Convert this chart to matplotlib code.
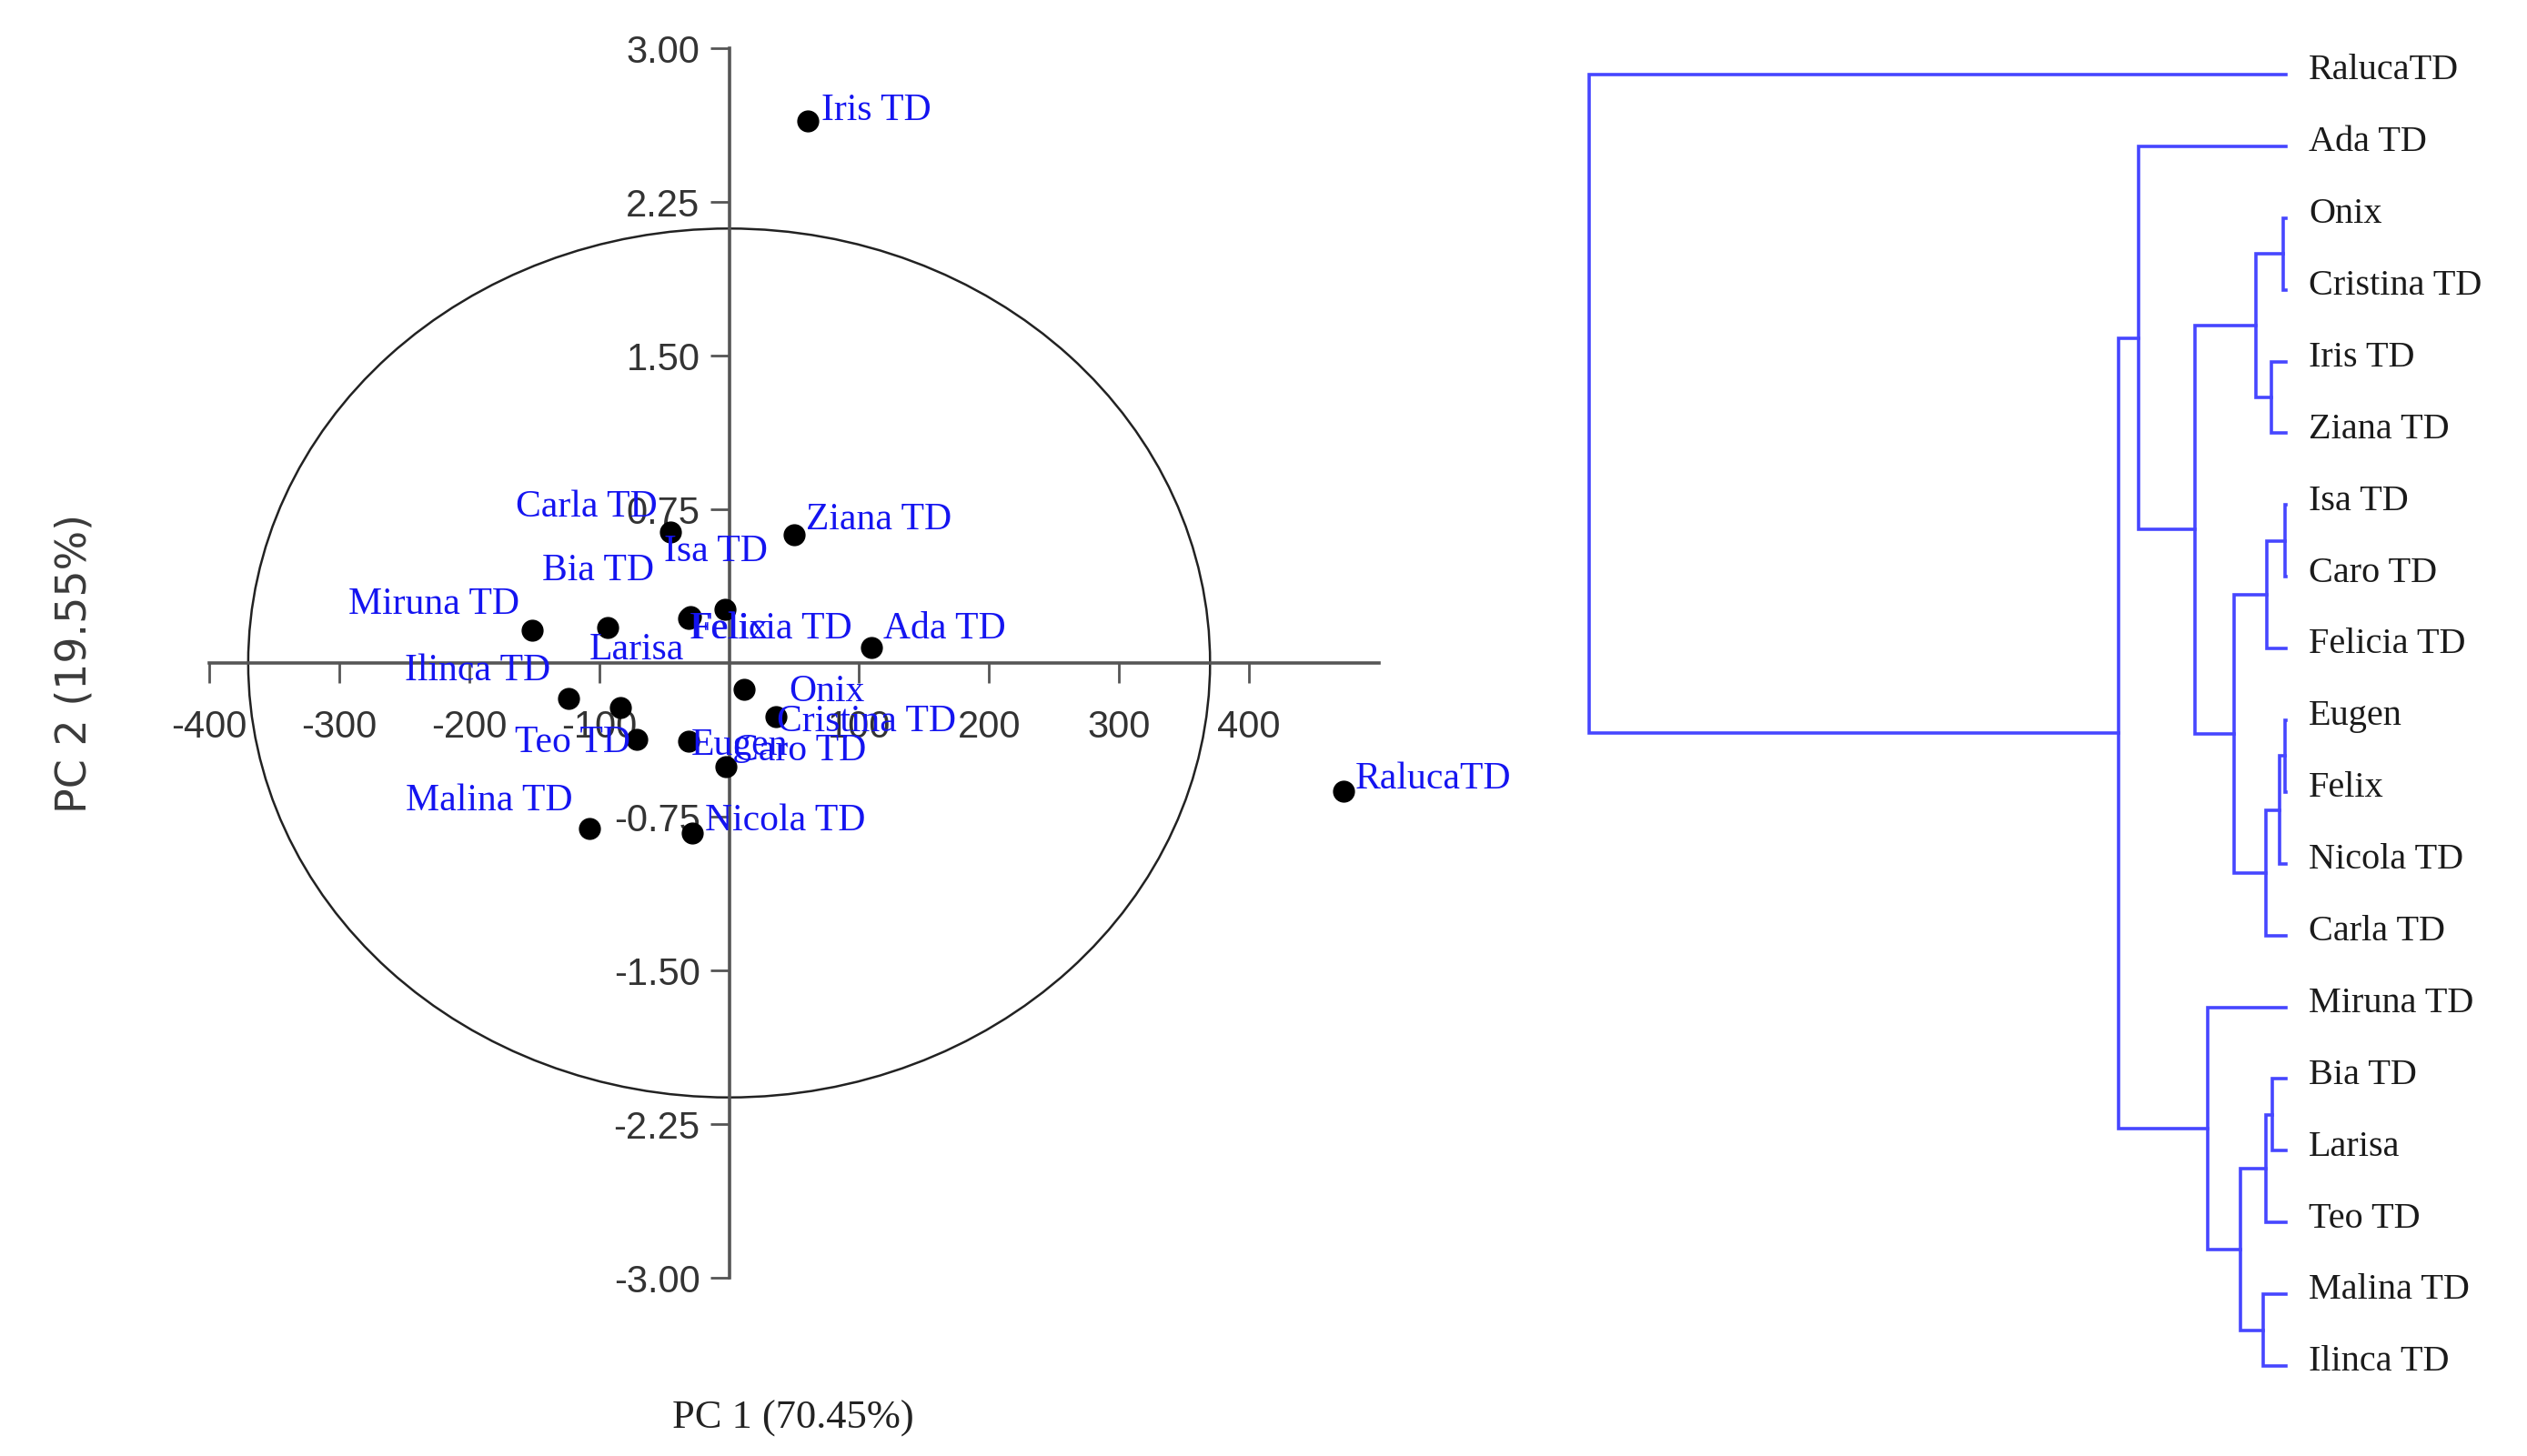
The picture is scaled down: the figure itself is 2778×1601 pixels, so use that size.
import matplotlib
matplotlib.use("Agg")
import matplotlib.pyplot as plt
from matplotlib.patches import Ellipse

plt.rcParams['axes.unicode_minus'] = False

# PCA scores (PC1, PC2)
names = ["Iris TD", "Ziana TD", "Carla TD", "Ada TD", "Malina TD", "Nicola TD",
         "RalucaTD", "Miruna TD", "Bia TD", "Felix", "Felicia TD", "Isa TD",
         "Ilinca TD", "Larisa", "Teo TD", "Eugen", "Onix", "Cristina TD", "Caro TD"]
pc1 = [60.2, 50.0, -45.5, 109.5, -107.5, -28.1,
       473.0, -151.9, -93.8, -31.5, -29.5, -3.5,
       -123.9, -84.0, -71.4, -31.5, 11.2, 35.7, -2.8]
pc2 = [2.645, 0.626, 0.641, 0.075, -0.806, -0.830,
       -0.626, 0.160, 0.173, 0.217, 0.225, 0.262,
       -0.173, -0.217, -0.373, -0.382, -0.129, -0.262, -0.506]

# confidence ellipse semi-axes
ell_rx = 370
ell_ry = 2.12

x_ticks = [-400, -300, -200, -100, 100, 200, 300, 400]
y_ticks = [-3.0, -2.25, -1.5, -0.75, 0.75, 1.5, 2.25, 3.0]

# dendrogram: leaf order top to bottom and merges (left, right, height)
leaves = ["RalucaTD", "Ada TD", "Onix", "Cristina TD", "Iris TD", "Ziana TD",
          "Isa TD", "Caro TD", "Felicia TD", "Eugen", "Felix", "Nicola TD",
          "Carla TD", "Miruna TD", "Bia TD", "Larisa", "Teo TD", "Malina TD",
          "Ilinca TD"]
merges = [
    ("Onix", "Cristina TD", 1.9),      # m0
    ("Iris TD", "Ziana TD", 9.0),      # m1
    ("m0", "m1", 18.6),                # m2
    ("Isa TD", "Caro TD", 0.8),        # m3
    ("m3", "Felicia TD", 12.0),        # m4
    ("Eugen", "Felix", 0.8),           # m5
    ("m5", "Nicola TD", 4.2),          # m6
    ("m6", "Carla TD", 12.5),          # m7
    ("m4", "m7", 32.2),                # m8
    ("m2", "m8", 56.6),                # m9
    ("Ada TD", "m9", 91.4),            # m10
    ("Bia TD", "Larisa", 8.5),         # m11
    ("m11", "Teo TD", 12.5),           # m12
    ("Malina TD", "Ilinca TD", 14.0),  # m13
    ("m12", "m13", 28.4),              # m14
    ("Miruna TD", "m14", 48.4),        # m15
    ("m10", "m15", 103.8),             # m16
    ("RalucaTD", "m16", 432.5),        # m17
]

# label placement (ha, dx, dy in pixels) - mimics the original label layout
px = 0.72
lab_pos = {
    "Iris TD": ("left", 15, 1), "Ziana TD": ("left", 13, 6),
    "Ada TD": ("left", 13, 10), "RalucaTD": ("left", 12, 3),
    "Nicola TD": ("left", 14, 3), "Carla TD": ("right", -14, 17),
    "Miruna TD": ("right", -14, 18), "Ilinca TD": ("right", -19, 20),
    "Malina TD": ("right", -18, 20), "Teo TD": ("right", -7, -14),
    "Bia TD": ("center", -10, 52), "Larisa": ("center", 18, 53),
    "Isa TD": ("center", -10, 53), "Felix": ("left", 3, -22),
    "Felicia TD": ("left", -1, -24), "Eugen": ("left", 3, -15),
    "Caro TD": ("left", 8, 7), "Onix": ("left", 50, -13),
    "Cristina TD": ("left", 1, -16),
}

serif = ['Liberation Serif', 'DejaVu Serif']
sans = ['Liberation Sans', 'DejaVu Sans']
blue = '#1414f0'
axis_col = '#555555'

fig = plt.figure(figsize=(27.78, 16.01), dpi=100)

# ---- PCA biplot ----
ax = fig.add_axes([230 / 2778, 1 - 1405 / 1601, (1516 - 230) / 2778, (1405 - 53) / 1601])
ax.set_xlim(-400, 500)
ax.set_ylim(-3, 3)
for s in ['top', 'right']:
    ax.spines[s].set_visible(False)
for s in ['left', 'bottom']:
    ax.spines[s].set_position(('data', 0))
    ax.spines[s].set_color(axis_col)
    ax.spines[s].set_linewidth(2.6)
ax.set_xticks(x_ticks, labels=[str(t) for t in x_ticks])
ax.set_yticks(y_ticks, labels=[f"{t:.2f}" for t in y_ticks])
ax.tick_params(axis='x', length=16, width=2, pad=21, colors=axis_col, labelcolor='#333333')
ax.tick_params(axis='y', length=15, width=2, pad=8, colors=axis_col, labelcolor='#333333')
for t in ax.get_xticklabels() + ax.get_yticklabels():
    t.set_family(sans)
    t.set_fontsize(30)

ax.add_patch(Ellipse((0, 0), 2 * ell_rx, 2 * ell_ry, fill=False, edgecolor='#222222', lw=1.8, zorder=1))
ax.scatter(pc1, pc2, s=270, color='black', zorder=3, clip_on=False)
for n, x, y in zip(names, pc1, pc2):
    ha, dx, dy = lab_pos[n]
    ax.annotate(n, (x, y), xytext=(dx * px, dy * px), textcoords='offset points',
                ha=ha, va='baseline', color=blue, fontsize=30, family=serif,
                zorder=4, annotation_clip=False)

fig.text(872 / 2778, 1 - 1560 / 1601, "PC 1 (70.45%)", ha='center', va='center',
         fontsize=32, family=serif, color='#222222')
fig.text(82 / 2778, 1 - 729 / 1601, "PC 2 (19.55%)", ha='center', va='center',
         rotation=90, fontsize=33, family='DejaVu Sans', color='#3a3a3a')

# ---- dendrogram ----
ax2 = fig.add_axes([1747 / 2778, 1 - 1502 / 1601, (2513 - 1747) / 2778, (1502 - 82) / 1601])
ax2.set_xlim(merges[-1][2], 0)
ax2.set_ylim(len(leaves) - 1, 0)
ax2.axis('off')
pos = {n: i for i, n in enumerate(leaves)}
hgt = {n: 0.0 for n in leaves}
for k, (a, b, h) in enumerate(merges):
    ax2.plot([hgt[a], h, h, hgt[b]], [pos[a], pos[a], pos[b], pos[b]],
             color='#4646ff', lw=2.6, clip_on=False, solid_joinstyle='miter')
    pos[f"m{k}"] = (pos[a] + pos[b]) / 2
    hgt[f"m{k}"] = h
for i, n in enumerate(leaves):
    ax2.annotate(n, (0, i), xytext=(18, 3), textcoords='offset points', ha='left',
                 va='center', fontsize=29, family=serif, color='#1a1a1a',
                 annotation_clip=False)

fig.savefig("out.png", dpi=100, facecolor='white')
